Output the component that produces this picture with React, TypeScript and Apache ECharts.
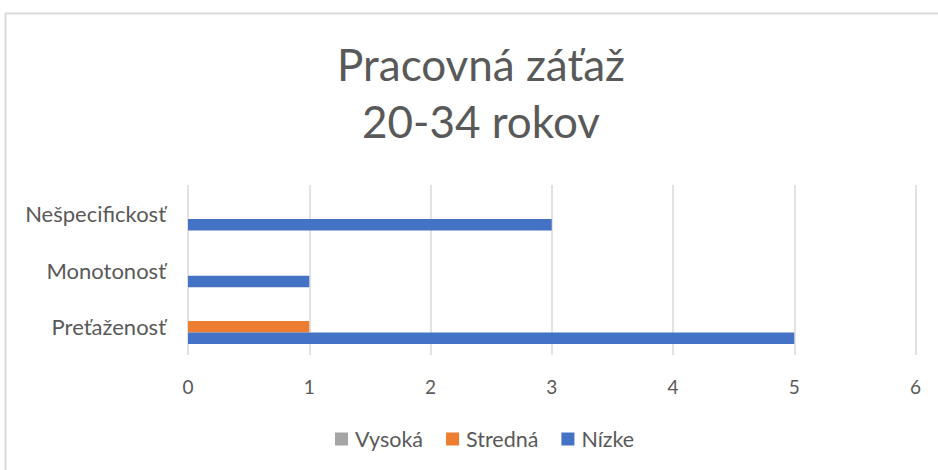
import React, { useEffect, useRef } from "react";
import * as echarts from "echarts";

const categories = ["Preťaženosť", "Monotonosť", "Nešpecifickosť"];
const seriesNames = ["Vysoká", "Stredná", "Nízke"];
const vysoka = [0, 0, 0];
const stredna = [1, 0, 0];
const nizke = [5, 1, 3];
const colors = ["#A5A5A5", "#ED7D31", "#4472C4"];
const xTicks = [0, 1, 2, 3, 4, 5, 6];

const FONT = "Lato";
const TEXT = "#595959";

export default function App() {
  const ref = useRef<HTMLDivElement>(null);
  useEffect(() => {
    document.body.style.margin = "0";
    const chart = echarts.init(ref.current!, null, { renderer: "svg" });
    const values = [vysoka, stredna, nizke];
    chart.setOption({
      animation: false,
      backgroundColor: "#ffffff",
      textStyle: { fontFamily: FONT, color: TEXT },
      title: {
        text: "Pracovná záťaž\n20-34 rokov",
        left: 476,
        top: 30,
        textAlign: "center",
        textStyle: { fontFamily: FONT, fontSize: 44, lineHeight: 57, fontWeight: "normal", color: TEXT },
      },
      graphic: [
        {
          type: "rect",
          shape: { x: 5.5, y: 13.5, width: 1000, height: 1000 },
          style: { fill: "none", stroke: "#d9d9d9", lineWidth: 2 },
          silent: true,
        },
      ],
      legend: {
        data: seriesNames,
        bottom: 15,
        left: 330,
        itemWidth: 13,
        itemHeight: 13,
        itemGap: 23,
        icon: "rect",
        textStyle: { fontFamily: FONT, fontSize: 21.5, color: TEXT, padding: [0, 0, 0, 2] },
      },
      grid: { left: 188, right: 22.5, top: 185, bottom: 470 - 355, containLabel: false },
      xAxis: {
        type: "value",
        min: 0,
        max: 6,
        interval: 1,
        axisLine: { show: false },
        axisTick: { show: false },
        splitLine: { show: true, lineStyle: { color: "#d9d9d9", width: 1.5 } },
        axisLabel: {
          fontFamily: FONT,
          fontSize: 19,
          color: TEXT,
          margin: 22,
          formatter: (v: number) => (xTicks.includes(v) ? String(v) : ""),
        },
      },
      yAxis: {
        type: "category",
        data: categories,
        axisLine: { show: false },
        axisTick: { show: false },
        axisLabel: { fontFamily: FONT, fontSize: 22, color: TEXT, margin: 22 },
      },
      series: seriesNames.map((name, i) => ({
        name,
        type: "bar",
        data: values[i],
        barWidth: 11.5,
        barGap: "0%",
        itemStyle: { color: colors[i] },
      })),
    });
    return () => chart.dispose();
  }, []);
  return <div ref={ref} style={{ width: 938, height: 470 }} />;
}
